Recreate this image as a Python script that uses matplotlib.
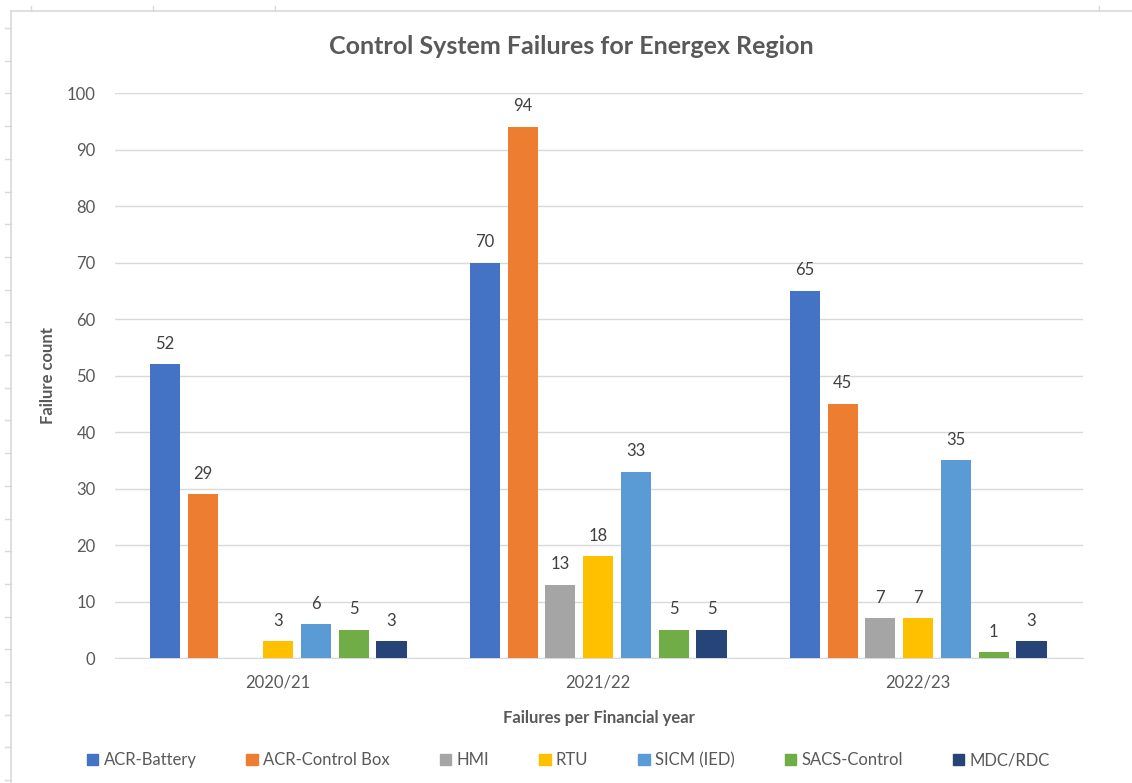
import numpy as np
import matplotlib
matplotlib.use("Agg")
import matplotlib.pyplot as plt
from matplotlib.lines import Line2D
from matplotlib.patches import Rectangle

years = ["2020/21", "2021/22", "2022/23"]
series = ["ACR-Battery", "ACR-Control Box", "HMI", "RTU", "SICM (IED)", "SACS-Control", "MDC/RDC"]
acr_battery = [52, 70, 65]
acr_control_box = [29, 94, 45]
hmi = [np.nan, 13, 7]
rtu = [3, 18, 7]
sicm = [6, 33, 35]
sacs = [5, 5, 1]
mdc = [3, 5, 3]
values = [acr_battery, acr_control_box, hmi, rtu, sicm, sacs, mdc]
colors = ["#4472C4", "#ED7D31", "#A5A5A5", "#FFC000", "#5B9BD5", "#70AD47", "#264478"]

plt.rcParams['font.family'] = ['Lato', 'DejaVu Sans']
txt = "#595959"

fig = plt.figure(figsize=(11.32, 7.83), dpi=100)
ax = fig.add_axes([0.1016, 0.1596, 0.9567 - 0.1016, 0.8812 - 0.1596])

x = np.arange(len(years))
step = 0.118
width = 0.094
n = len(series)
for i, (name, vals, c) in enumerate(zip(series, values, colors)):
    pos = x + (i - (n - 1) / 2) * step
    v = np.array(vals, dtype=float)
    bars = ax.bar(pos, np.nan_to_num(v), width, color=c, label=name, zorder=3)
    for b, val in zip(bars, v):
        if np.isnan(val):
            continue
        ax.annotate(f"{int(val)}", (b.get_x() + b.get_width() / 2, val),
                    xytext=(0, 9), textcoords="offset points", ha="center", va="bottom",
                    fontsize=12, color="#404040")

ax.set_xlim(-0.51, 2.515)
ax.set_ylim(0, 100)
ax.set_yticks(np.arange(0, 101, 10))
ax.set_xticks(x)
ax.set_xticklabels(years)
ax.yaxis.grid(True, color="#D9D9D9", linewidth=1, zorder=0)
for s in ["top", "right", "left"]:
    ax.spines[s].set_visible(False)
ax.spines["bottom"].set_color("#D9D9D9")
ax.tick_params(axis="both", length=0, labelsize=12, labelcolor=txt)
ax.tick_params(axis="y", pad=14)
ax.tick_params(axis="x", pad=12)

ax.set_ylabel("Failure count", fontsize=12, fontweight="bold", color=txt, labelpad=8)
ax.set_xlabel("Failures per Financial year", fontsize=12, fontweight="bold", color=txt, labelpad=14)
fig.text(0.505, 0.94, "Control System Failures for Energex Region", ha="center", va="center",
         fontsize=18, fontweight="bold", color=txt)

handles = [Rectangle((0, 0), 1, 1, color=c) for c in colors]
fig.legend(handles, series, loc="center", bbox_to_anchor=(0.502, 0.029), ncol=7, frameon=False,
           fontsize=12, labelcolor=txt, handlelength=0.7, handleheight=0.7, handletextpad=0.3,
           columnspacing=3.0)

# chart border (spreadsheet frame)
fig.add_artist(Line2D([11 / 1132, 11 / 1132], [0, 1 - 11 / 783], transform=fig.transFigure, color="#D9D9D9", lw=1.2))
fig.add_artist(Line2D([11 / 1132, 1], [1 - 11 / 783, 1 - 11 / 783], transform=fig.transFigure, color="#D9D9D9", lw=1.2))
for yy in np.arange(28, 783, 32.7):
    fig.add_artist(Line2D([5 / 1132, 11 / 1132], [1 - yy / 783] * 2, transform=fig.transFigure, color="#D9D9D9", lw=1))
for xx in [31, 153, 275, 1099]:
    fig.add_artist(Line2D([xx / 1132] * 2, [1 - 6 / 783, 1 - 11 / 783], transform=fig.transFigure, color="#D9D9D9", lw=1))

fig.savefig("out.png", dpi=100)
